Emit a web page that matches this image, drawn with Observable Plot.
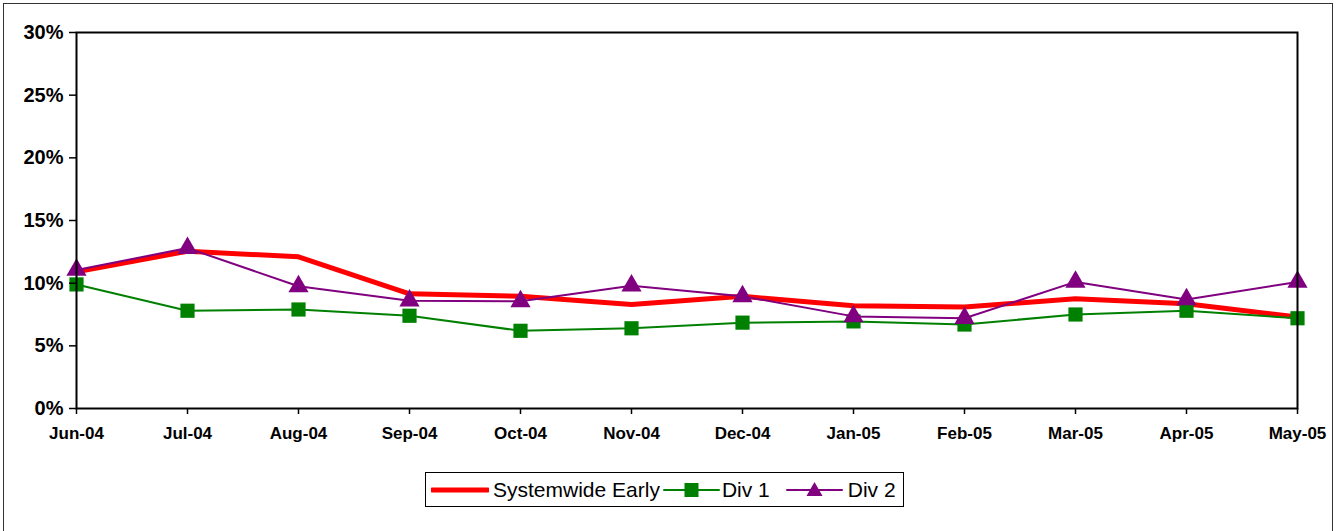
<!DOCTYPE html>
<html>
<head>
<meta charset="utf-8">
<script src="https://cdn.jsdelivr.net/npm/d3@7"></script>
<script src="https://cdn.jsdelivr.net/npm/@observablehq/plot@0.6"></script>
<style>
  html, body { margin: 0; padding: 0; background: #fff; }
  body { width: 1338px; height: 531px; position: relative; overflow: hidden; font-family: Arial, "Liberation Sans", sans-serif; }
  #frame { position: absolute; left: 3px; top: 3px; width: 1330px; height: 530px; border: 1.5px solid #333; box-sizing: border-box; }
  #chart { position: absolute; left: 0; top: 0; }
  #legend { position: absolute; left: 425px; top: 472px; width: 479px; height: 35px; border: 1px solid #000; box-sizing: border-box; display: flex; align-items: center; font-size: 21px; color: #000; }
  #legend .item { display: flex; align-items: center; }
  #legend svg { display: block; }
</style>
</head>
<body>
<div id="frame"></div>
<div id="chart"></div>
<div id="legend"></div>
<script>
const months = ["Jun-04","Jul-04","Aug-04","Sep-04","Oct-04","Nov-04","Dec-04","Jan-05","Feb-05","Mar-05","Apr-05","May-05"];
const systemwide = [10.9, 12.55, 12.1, 9.15, 8.95, 8.3, 8.95, 8.2, 8.1, 8.75, 8.35, 7.3];
const div1 = [9.9, 7.8, 7.9, 7.4, 6.2, 6.4, 6.85, 6.95, 6.7, 7.5, 7.8, 7.2];
const div2 = [11.05, 12.8, 9.75, 8.6, 8.55, 9.8, 8.95, 7.35, 7.2, 10.1, 8.7, 10.1];
const yTicks = [0, 5, 10, 15, 20, 25, 30];
const seriesNames = ["Systemwide Early", "Div 1", "Div 2"];
const colors = ["#FF0000", "#008000", "#800080"];

const toRows = (vals) => months.map((m, i) => ({month: m, value: vals[i] / 100}));
const sysRows = toRows(systemwide);
const d1Rows = toRows(div1);
const d2Rows = toRows(div2);

const chart = Plot.plot({
  width: 1338,
  height: 460,
  marginLeft: 76,
  marginRight: 41,
  marginTop: 32,
  marginBottom: 52,
  style: {fontFamily: "Arial, 'Liberation Sans', sans-serif", background: "transparent", overflow: "visible"},
  x: {type: "point", domain: months, padding: 0, label: null},
  y: {domain: [0, 0.30], label: null},
  marks: [
    Plot.line(sysRows, {x: "month", y: "value", stroke: colors[0], strokeWidth: 5, strokeLinejoin: "miter"}),
    Plot.line(d1Rows, {x: "month", y: "value", stroke: colors[1], strokeWidth: 2}),
    Plot.dot(d1Rows, {x: "month", y: "value", symbol: "square", r: 8, fill: colors[1], stroke: null}),
    Plot.line(d2Rows, {x: "month", y: "value", stroke: colors[2], strokeWidth: 2}),
    Plot.dot(d2Rows, {x: "month", y: "value", symbol: "triangle", r: 7.5, fill: colors[2], stroke: null}),
    Plot.frame({stroke: "#000", strokeWidth: 2}),
    Plot.axisY(yTicks.map(d => d / 100), {tickFormat: d => Math.round(d * 100) + "%", tickSize: 7, tickPadding: 6, fontSize: 20, fontWeight: "bold", fill: "#000", strokeWidth: 1.5}),
    Plot.axisX(months, {tickSize: 6, tickPadding: 12, fontSize: 17, fontWeight: "bold", fill: "#000", strokeWidth: 1.5})
  ]
});
document.getElementById("chart").appendChild(chart);

// Legend
const legend = document.getElementById("legend");
const legendDefs = [
  {name: seriesNames[0], color: colors[0], width: 58, stroke: 5, marker: null, pad: 4, gap: 5},
  {name: seriesNames[1], color: colors[1], width: 57, stroke: 2, marker: "square", pad: 2, gap: 3},
  {name: seriesNames[2], color: colors[2], width: 57, stroke: 2, marker: "triangle", pad: 5, gap: 16}
];
legendDefs.forEach((d, i) => {
  const item = document.createElement("div");
  item.className = "item";
  item.style.marginLeft = d.gap + "px";
  let markerSvg = "";
  const cx = d.width / 2, cy = 12;
  if (d.marker === "square") markerSvg = `<rect x="${cx - 7}" y="${cy - 7}" width="14" height="14" fill="${d.color}"/>`;
  if (d.marker === "triangle") markerSvg = `<path d="M${cx},${cy - 8} L${cx + 8},${cy + 6} L${cx - 8},${cy + 6} Z" fill="${d.color}"/>`;
  item.innerHTML = `<svg width="${d.width}" height="24"><line x1="1" x2="${d.width - 1}" y1="${cy}" y2="${cy}" stroke="${d.color}" stroke-width="${d.stroke}" stroke-linecap="round"/>${markerSvg}</svg><span style="margin-left:${d.pad}px">${d.name}</span>`;
  legend.appendChild(item);
});
</script>
</body>
</html>
